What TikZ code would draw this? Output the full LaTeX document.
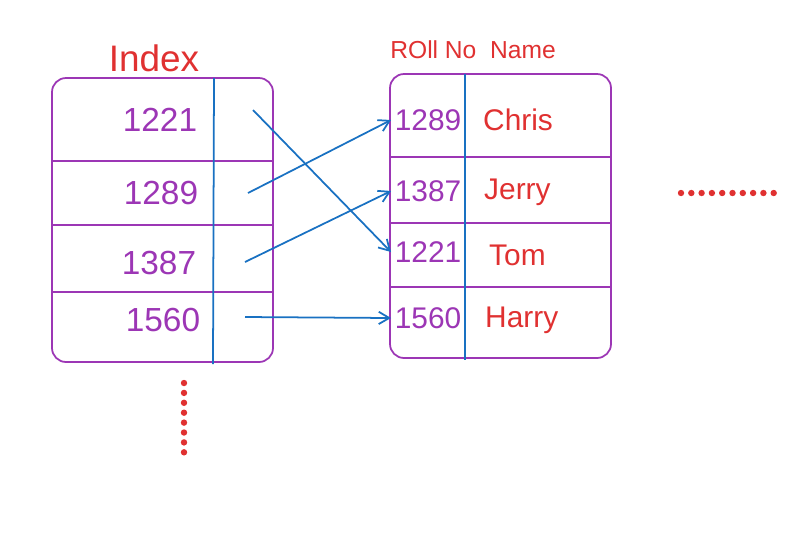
\documentclass[tikz,border=0pt]{standalone}
\usepackage{fontspec}
\setmainfont{Liberation Sans}
\usetikzlibrary{arrows.meta}
\definecolor{sketchpurple}{HTML}{9C36B5}
\definecolor{sketchblue}{HTML}{1971C2}
\definecolor{sketchred}{HTML}{E03131}

\begin{document}
\begin{tikzpicture}[x=0.02cm, y=-0.02cm,
	tablebox/.style={draw=sketchpurple, line width=1pt, rounded corners=8pt},
	rowline/.style={draw=sketchpurple, line width=1pt},
	colline/.style={draw=sketchblue, line width=1pt},
	idxnum/.style={text=sketchpurple, font=\fontsize{19}{19}\selectfont},
	keynum/.style={text=sketchpurple, font=\fontsize{17}{17}\selectfont, anchor=west, inner sep=2pt},
	rowname/.style={text=sketchred, font=\fontsize{17}{17}\selectfont, anchor=west},
	link/.style={draw=sketchblue, line width=1pt, -{Straight Barb[length=6pt, width=7pt]}},
	dot/.style={fill=sketchred}]

	\useasboundingbox (0, 0) rectangle (800, 549);

	% index table
	\node[text=sketchred, font=\fontsize{21}{21}\selectfont] (indexhead) at (154, 58) {Index};
	\draw[tablebox] (52, 78) rectangle (273, 362);
	\foreach \y in {161, 225, 292}
	\draw[rowline] (52, \y) -- (273, \y);
	\draw[colline] (214, 78) -- (213, 364);

	\node[idxnum] (i1) at (160, 120) {1221};
	\node[idxnum] (i2) at (161, 193) {1289};
	\node[idxnum] (i3) at (159, 263) {1387};
	\node[idxnum] (i4) at (163, 320) {1560};

	% pointer start points
	\coordinate (p1) at (253, 110);
	\coordinate (p2) at (248, 193);
	\coordinate (p3) at (245, 262);
	\coordinate (p4) at (245, 317);

	% data table
	\node[text=sketchred, font=\fontsize{14}{14}\selectfont, anchor=west, inner sep=0pt] (datahead) at (390, 50) {ROll No\ \ Name};
	\draw[tablebox] (390, 74) rectangle (611, 358);
	\foreach \y in {157, 223, 287}
	\draw[rowline] (390, \y) -- (611, \y);
	\draw[colline] (465, 74) -- (465, 360);

	\node[keynum] (k1) at (391, 120) {1289};
	\node[keynum] (k2) at (391, 191) {1387};
	\node[keynum] (k3) at (391, 252) {1221};
	\node[keynum] (k4) at (391, 318) {1560};

	\node[rowname] (n1) at (477, 120) {Chris};
	\node[rowname] (n2) at (478, 192) {Jerry};
	\node[rowname] (n3) at (483, 255) {Tom};
	\node[rowname] (n4) at (479, 320) {Harry};

	% pointers
	\draw[link] (p1) -- (k3.west);
	\draw[link] (p2) -- (k1.west);
	\draw[link] (p3) -- (k2.west);
	\draw[link] (p4) -- (k4.west);

	% more rows / more columns
	\foreach \i in {0,...,7}
	\fill[dot] (184, 383+\i*9.9) circle (3.2);
	\foreach \i in {0,...,9}
	\fill[dot] (681+\i*10.3, 193) circle (3.2);

\end{tikzpicture}
\end{document}
